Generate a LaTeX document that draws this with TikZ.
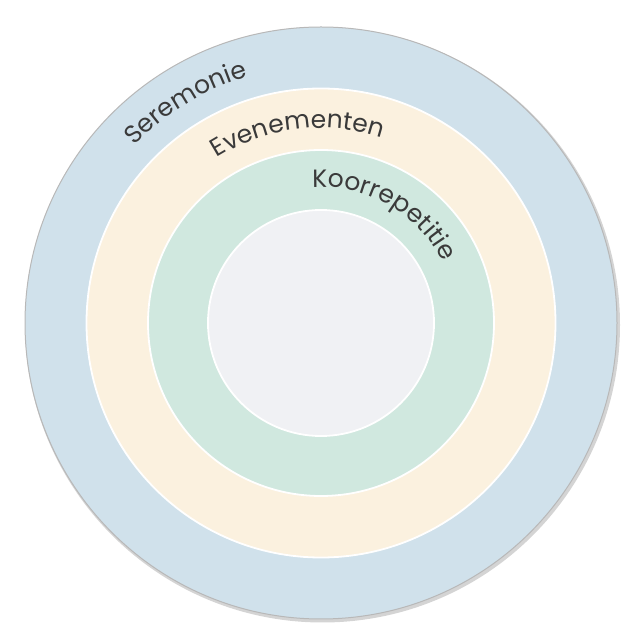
\documentclass[tikz,border=0pt]{standalone}
\usepackage{fontspec}
\setsansfont{Poppins}
\usetikzlibrary{decorations.text}
\definecolor{cblue}{HTML}{D0E1EB}
\definecolor{ccream}{HTML}{FBF1DF}
\definecolor{cmint}{HTML}{D0E8DF}
\definecolor{cinner}{HTML}{F0F1F4}
\definecolor{ctxt}{HTML}{3A3A3A}
\definecolor{cshadow}{HTML}{B8B8B8}
\newcommand{\ringfont}{\sffamily\fontsize{25}{25}\selectfont\color{ctxt}}
\tikzset{
  ring/.style={draw=white, line width=1.8pt},
  ringlabel/.style={decorate, decoration={text along path, text align=center, text={|\ringfont|#1}}}
}
\begin{document}
\begin{tikzpicture}[x=1pt,y=1pt]
\useasboundingbox (0,0) rectangle (643,643);
\coordinate (c) at (321,320);
% shadow of outer disc
\fill[cshadow!60] ([shift={(1.5,-2)}]c) circle (297.5);
\filldraw[fill=cblue, draw=cshadow, line width=1pt] (c) circle (296);
\filldraw[ring, fill=ccream] (c) circle (234.5);
\filldraw[ring, fill=cmint] (c) circle (173);
\filldraw[ring, fill=cinner] (c) circle (113);
% labels along arcs
\path[ringlabel={Seremonie}] ([shift={(151:257)}]c) arc (151:92:257);
\path[ringlabel={Evenementen}] ([shift={(137:195)}]c) arc (137:57:195);
\path[ringlabel={Koorrepetitie}] ([shift={(110:136)}]c) arc (110:10:136);
\end{tikzpicture}
\end{document}
